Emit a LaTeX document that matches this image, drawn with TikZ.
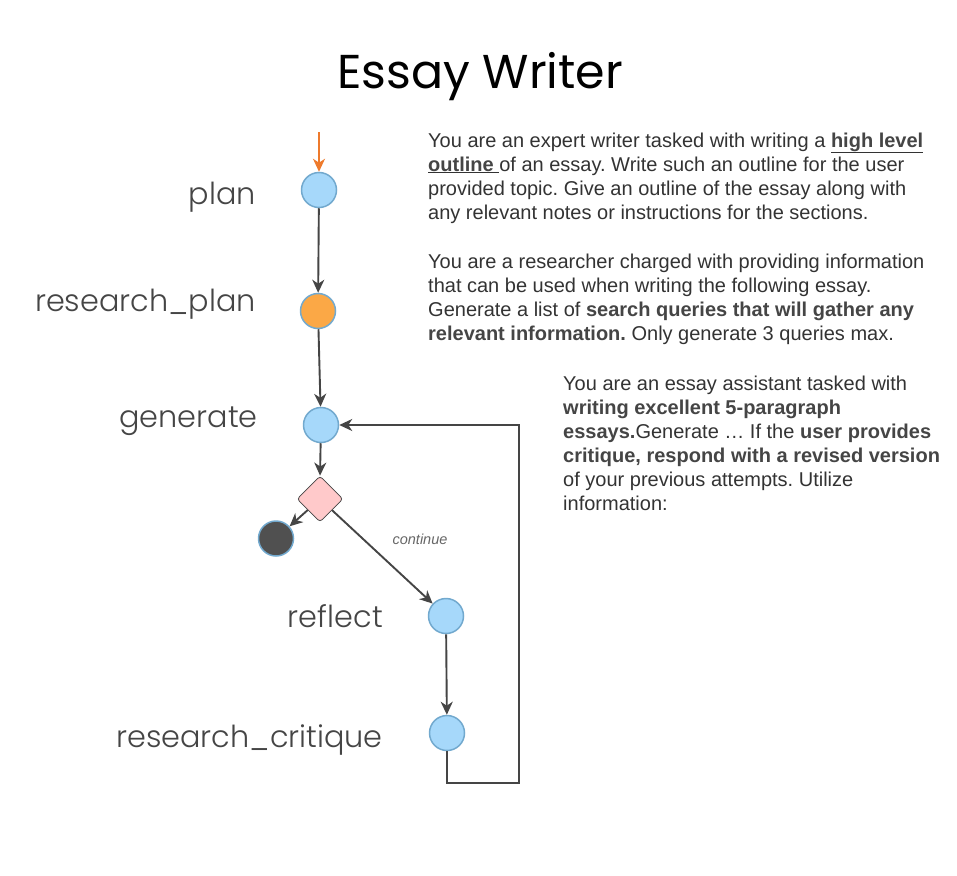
\documentclass[tikz,border=0pt]{standalone}
\usepackage{fontspec}
\setmainfont{Liberation Sans}
\newfontfamily\ttl{Poppins}
\newfontfamily\lbl{Poppins Light}
\usetikzlibrary{arrows.meta,shapes.geometric}
\definecolor{nodeblue}{HTML}{A6D8FA}
\definecolor{nodeedge}{HTML}{72A9CE}
\definecolor{nodeorange}{HTML}{FBA846}
\definecolor{diafill}{HTML}{FFC9CA}
\definecolor{darkfill}{HTML}{505050}
\definecolor{linec}{HTML}{454545}
\definecolor{txt}{HTML}{333333}
\definecolor{arrorange}{HTML}{EE7A2C}
\tikzset{
  gnode/.style={circle,draw=nodeedge,line width=1.5pt,fill=nodeblue,minimum width=35pt,inner sep=0pt},
  conn/.style={draw=linec,line width=1.9pt,-{Stealth[length=13pt,width=12pt,inset=4pt]}},
  lab/.style={font=\lbl\fontsize{30.3}{31}\selectfont,text=linec,anchor=base east,inner sep=0pt},
  para/.style={font=\fontsize{20}{24}\selectfont,text=txt,anchor=base west,inner sep=0pt},
}
\newcommand{\bt}[1]{\textbf{\color{linec}#1}}
\frenchspacing
\begin{document}
\begin{tikzpicture}[x=1pt,y=-1pt]
\useasboundingbox[fill=white] (0,0) rectangle (957,875);
% title
\node[font=\ttl\fontsize{47.5}{48}\selectfont,anchor=base,inner sep=0pt] (title) at (480,88) {Essay Writer};
% nodes
\node[gnode] (plan) at (319,190) {};
\node[gnode,fill=nodeorange] (rplan) at (318,311) {};
\node[gnode] (gen) at (321,425) {};
\node[diamond,draw=linec,line width=0.8pt,fill=diafill,minimum width=46pt,minimum height=46pt,inner sep=0pt,rounded corners=3pt] (dia) at (320,499) {};
\node[gnode,fill=darkfill] (endn) at (276,538.5) {};
\node[gnode] (refl) at (446,616) {};
\node[gnode] (rcrit) at (447,733) {};
% labels
\node[lab] (lplan) at (256,204) {plan};
\node[lab] (lrplan) at (256,311) {research\_plan};
\node[lab] (lgen) at (258,427) {generate};
\node[lab] (lrefl) at (383,627) {reflect};
\node[lab] (lrcrit) at (383,747) {research\_critique};
% entry arrow
\coordinate (start) at (319,132);
\draw[draw=arrorange,line width=1.9pt,-{Stealth[length=13pt,width=12pt,inset=4pt]}] (start) -- (plan.north);
% edges
\draw[conn] (plan) -- (rplan);
\draw[conn] (rplan) -- (gen);
\draw[conn] (gen) -- (dia.north);
\draw[conn] (dia) -- (endn);
\draw[conn] (dia) -- (refl);
\draw[conn] (refl) -- (rcrit);
\coordinate (lc) at (519,783);
\draw[conn] (rcrit.south) |- (lc) |- (gen.east);
\node[font=\itshape\fontsize{14.5}{15}\selectfont,text=gray!80!black,inner sep=0pt] (cont) at (420,539) {continue};
% paragraph 1
\node[para] (p1a) at (428,147) {You are an expert writer tasked with writing a \underline{\bt{high level}}};
\node[para] (p1b) at (428,171) {\underline{\bt{outline }}of an essay. Write such an outline for the user};
\node[para] (p1c) at (428,195) {provided topic. Give an outline of the essay along with};
\node[para] (p1d) at (428,219) {any relevant notes or instructions for the sections.};
% paragraph 2
\node[para] (p2a) at (428,268) {You are a researcher charged with providing information};
\node[para] (p2b) at (428,292) {that can be used when writing the following essay.};
\node[para] (p2c) at (428,316) {Generate a list of \bt{search queries that will gather any}};
\node[para] (p2d) at (428,340) {\bt{relevant information.} Only generate 3 queries max.};
% paragraph 3
\node[para] (p3a) at (563,390) {You are an essay assistant tasked with};
\node[para] (p3b) at (563,414) {\bt{writing excellent 5-paragraph}};
\node[para] (p3c) at (563,438) {\bt{essays.}Generate \dots\ If the \bt{user provides}};
\node[para] (p3d) at (563,462) {\bt{critique, respond with a revised version}};
\node[para] (p3e) at (563,486) {of your previous attempts. Utilize};
\node[para] (p3f) at (563,510) {information:};
\end{tikzpicture}
\end{document}
